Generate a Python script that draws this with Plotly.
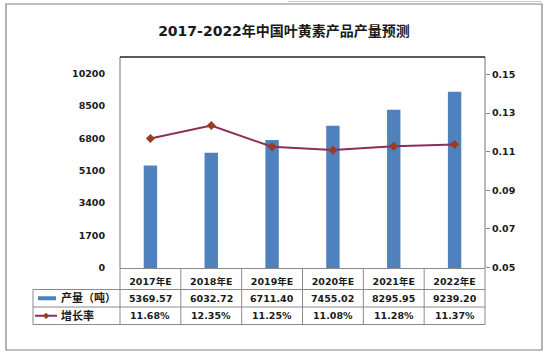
import plotly.graph_objects as go

# ---------------- data ----------------
categories = ["2017年E", "2018年E", "2019年E", "2020年E", "2021年E", "2022年E"]
output_tons = [5369.57, 6032.72, 6711.40, 7455.02, 8295.95, 9239.20]
growth_pct = [11.68, 12.35, 11.25, 11.08, 11.28, 11.37]
series_names = ["产量（吨）", "增长率"]
title_text = "2017-2022年中国叶黄素产品产量预测"
left_ticks = [0, 1700, 3400, 5100, 6800, 8500, 10200]
right_ticks = [0.05, 0.07, 0.09, 0.11, 0.13, 0.15]

# ---------------- layout geometry (pixels) ----------------
W, H = 548, 354
L, R, T, B = 120, 485, 57, 268


def px2x(px):
    return (px - L) / (R - L)


def py2y(py):
    return (B - py) / (B - T)


FONT = "DejaVu Sans, Noto Sans CJK SC, sans-serif"
TXT = "#1a1a1a"
BAR = "#4F81BD"
LINE = "#8C2E5C"
MARK = "#9E3A1E"
GRID = "#8a8a8a"

fig = go.Figure()
fig.add_trace(go.Bar(x=categories, y=output_tons, name=series_names[0],
                     marker=dict(color=BAR, line=dict(width=0)), width=0.22,
                     yaxis="y"))
fig.add_trace(go.Scatter(x=categories, y=[g / 100 for g in growth_pct],
                         name=series_names[1], mode="lines+markers",
                         line=dict(color=LINE, width=2),
                         marker=dict(symbol="diamond", size=7, color=MARK),
                         yaxis="y2"))

shapes = []
# outer chart border
shapes.append(dict(type="rect", xref="paper", yref="paper",
                    x0=px2x(6), x1=px2x(542), y0=py2y(350), y1=py2y(4),
                    line=dict(color="#808080", width=1.2), layer="below"))
# faint top-right artifact line
shapes.append(dict(type="line", xref="paper", yref="paper",
                    x0=px2x(288), x1=px2x(542), y0=py2y(1.5), y1=py2y(1.5),
                    line=dict(color="#c8c8c8", width=1)))
# plot area border
shapes.append(dict(type="line", xref="paper", yref="paper", x0=0, x1=0, y0=0, y1=1,
                    line=dict(color=GRID, width=1.2)))
shapes.append(dict(type="line", xref="paper", yref="paper", x0=1, x1=1, y0=0, y1=1,
                    line=dict(color=GRID, width=1.2)))
shapes.append(dict(type="line", xref="paper", yref="paper", x0=0, x1=1, y0=1, y1=1,
                    line=dict(color="#222222", width=1.5)))

# data table lines
row_lines = [268.5, 289.5, 307, 324.5]
n = len(categories)
col_edges = [L + i * (R - L) / n for i in range(n + 1)]
shapes.append(dict(type="line", xref="paper", yref="paper", x0=0, x1=1,
                    y0=py2y(row_lines[0]), y1=py2y(row_lines[0]),
                    line=dict(color=GRID, width=1)))
for ry in row_lines[1:]:
    shapes.append(dict(type="line", xref="paper", yref="paper", x0=px2x(33), x1=1,
                        y0=py2y(ry), y1=py2y(ry), line=dict(color=GRID, width=1)))
for cx in col_edges:
    shapes.append(dict(type="line", xref="paper", yref="paper", x0=px2x(cx), x1=px2x(cx),
                        y0=py2y(row_lines[0]), y1=py2y(row_lines[-1]),
                        line=dict(color=GRID, width=1)))
shapes.append(dict(type="line", xref="paper", yref="paper", x0=px2x(33), x1=px2x(33),
                    y0=py2y(row_lines[1]), y1=py2y(row_lines[-1]),
                    line=dict(color=GRID, width=1)))

# legend keys
y_r1 = (row_lines[1] + row_lines[2]) / 2
y_r2 = (row_lines[2] + row_lines[3]) / 2
shapes.append(dict(type="line", xref="paper", yref="paper", x0=px2x(38), x1=px2x(56),
                    y0=py2y(y_r1), y1=py2y(y_r1), line=dict(color=BAR, width=4)))
shapes.append(dict(type="line", xref="paper", yref="paper", x0=px2x(35), x1=px2x(57),
                    y0=py2y(y_r2), y1=py2y(y_r2), line=dict(color=LINE, width=2)))

annotations = []
# legend marker for growth line
annotations.append(dict(xref="paper", yref="paper", x=px2x(46), y=py2y(y_r2),
                        text="◆", showarrow=False, font=dict(size=8, color=MARK, family=FONT),
                        xanchor="center", yanchor="middle"))
annotations.append(dict(xref="paper", yref="paper", x=px2x(59), y=py2y(y_r1),
                        text=series_names[0], showarrow=False, xanchor="left", yanchor="middle",
                        font=dict(size=11, color=TXT, family=FONT, weight="bold")))
annotations.append(dict(xref="paper", yref="paper", x=px2x(59), y=py2y(y_r2),
                        text=series_names[1], showarrow=False, xanchor="left", yanchor="middle",
                        font=dict(size=11, color=TXT, family=FONT, weight="bold")))
for c, v, g in zip(categories, output_tons, growth_pct):
    annotations.append(dict(xref="x", yref="paper", x=c, y=py2y(y_r1),
                            text=f"{v:.2f}", showarrow=False, xanchor="center", yanchor="middle",
                            font=dict(size=9.5, color=TXT, family=FONT, weight="bold")))
    annotations.append(dict(xref="x", yref="paper", x=c, y=py2y(y_r2),
                            text=f"{g:.2f}%", showarrow=False, xanchor="center", yanchor="middle",
                            font=dict(size=9.5, color=TXT, family=FONT, weight="bold")))

fig.update_layout(
    width=W, height=H, autosize=False,
    margin=dict(l=L, r=W - R, t=T, b=H - B, pad=0),
    paper_bgcolor="white", plot_bgcolor="white",
    showlegend=False,
    title=dict(text=title_text, x=px2x(284), xref="paper", xanchor="center",
               y=1 - 31 / H, yref="container", yanchor="middle",
               font=dict(size=14, color=TXT, family=FONT, weight="bold")),
    xaxis=dict(type="category", showgrid=False, showline=False, zeroline=False,
               ticks="outside", ticklen=5, tickcolor="rgba(0,0,0,0)",
               tickfont=dict(size=9.5, color=TXT, family=FONT, weight="bold"),
               range=[-0.5, n - 0.5]),
    yaxis=dict(range=[0, 11054], tickvals=left_ticks, ticktext=[str(t) for t in left_ticks],
               showgrid=False, zeroline=False, showline=False,
               ticks="outside", ticklen=12, tickcolor="rgba(0,0,0,0)",
               tickfont=dict(size=9.5, color=TXT, family=FONT, weight="bold")),
    yaxis2=dict(range=[0.04974, 0.1590], overlaying="y", side="right",
                tickvals=right_ticks, ticktext=[f"{t:.2f}" for t in right_ticks],
                showgrid=False, zeroline=False, showline=False,
                ticks="outside", ticklen=4, tickcolor=GRID, tickwidth=1,
                tickfont=dict(size=9.5, color=TXT, family=FONT, weight="bold")),
    shapes=shapes,
    annotations=annotations,
)

fig.write_html("out.html")
